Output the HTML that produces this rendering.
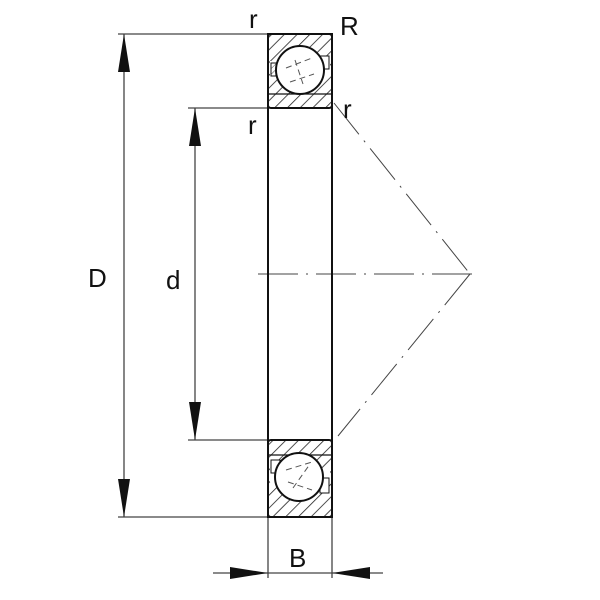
<!DOCTYPE html>
<html><head><style>
html,body{margin:0;padding:0;background:#fff;}
svg{display:block;}
text{font-family:"Liberation Sans",sans-serif;fill:#111;}
</style></head><body>
<svg width="600" height="600" viewBox="0 0 600 600" xmlns="http://www.w3.org/2000/svg">
<defs>
<pattern id="h" patternUnits="userSpaceOnUse" width="9" height="9" patternTransform="rotate(45)">
<line x1="0" y1="0" x2="0" y2="9" stroke="#222" stroke-width="1.6"/>
</pattern>
<pattern id="h2" patternUnits="userSpaceOnUse" width="4" height="4" patternTransform="rotate(45)">
<line x1="0" y1="0" x2="0" y2="4" stroke="#222" stroke-width="0.8"/>
</pattern>
</defs>
<g stroke="#444" stroke-width="1.3" fill="none">
<line x1="118" y1="34" x2="268" y2="34"/>
<line x1="118" y1="517" x2="268" y2="517"/>
<line x1="188" y1="108" x2="268" y2="108"/>
<line x1="188" y1="440" x2="268" y2="440"/>
<line x1="124" y1="34" x2="124" y2="517"/>
<line x1="195" y1="108" x2="195" y2="440"/>
<line x1="268" y1="517" x2="268" y2="578"/>
<line x1="332" y1="517" x2="332" y2="578"/>
<line x1="213" y1="573" x2="383" y2="573"/>
</g>
<g fill="#111">
<polygon points="124,34 118,72 130,72"/>
<polygon points="124,517 118,479 130,479"/>
<polygon points="195,108 189,146 201,146"/>
<polygon points="195,440 189,402 201,402"/>
<polygon points="268,573 230,567 230,579"/>
<polygon points="332,573 370,567 370,579"/>
</g>
<g stroke="#444" stroke-width="1" fill="none" stroke-dasharray="40,8,2,8">
<line x1="258" y1="274" x2="478" y2="274"/>
<line x1="334" y1="103" x2="470" y2="274"/>
<line x1="470" y1="274" x2="338" y2="436"/>
</g>
<rect x="268" y="34" width="64" height="483" fill="none" stroke="#111" stroke-width="2"/>
<rect x="268" y="34" width="64" height="74" rx="3" fill="url(#h)" stroke="#111" stroke-width="2"/>
<rect x="270" y="61" width="60" height="14" fill="#fff"/>
<rect x="271" y="63" width="9" height="13" fill="url(#h2)" stroke="#111" stroke-width="1"/>
<rect x="320" y="56" width="9" height="13" fill="#fff" stroke="#111" stroke-width="1"/>
<line x1="268" y1="94" x2="332" y2="94" stroke="#111" stroke-width="1.2"/>
<circle cx="300" cy="70" r="24" fill="#fff" stroke="#111" stroke-width="2"/>
<g stroke="#555" stroke-width="1" stroke-dasharray="6,4">
<line x1="286" y1="68" x2="312" y2="58"/><line x1="290" y1="82" x2="314" y2="74"/><line x1="295" y1="60" x2="303" y2="84"/>
</g>
<rect x="268" y="440" width="64" height="77" rx="3" fill="url(#h)" stroke="#111" stroke-width="2"/>
<rect x="270" y="468" width="60" height="14" fill="#fff"/>
<rect x="271" y="460" width="9" height="13" fill="#fff" stroke="#111" stroke-width="1"/>
<rect x="320" y="478" width="9" height="15" fill="#fff" stroke="#111" stroke-width="1"/>
<line x1="268" y1="455" x2="332" y2="455" stroke="#111" stroke-width="1.2"/>
<circle cx="299" cy="477" r="24" fill="#fff" stroke="#111" stroke-width="2"/>
<g stroke="#555" stroke-width="1" stroke-dasharray="6,4">
<line x1="286" y1="470" x2="312" y2="462"/><line x1="288" y1="482" x2="312" y2="490"/><line x1="293" y1="488" x2="310" y2="464"/>
</g>
<text x="88" y="287" font-size="26">D</text>
<text x="166" y="289" font-size="26">d</text>
<text x="289" y="567" font-size="26">B</text>
<text x="249" y="28" font-size="26">r</text>
<text x="248" y="134" font-size="26">r</text>
<text x="343" y="118" font-size="26">r</text>
<text x="340" y="35" font-size="26">R</text>
</svg>
</body></html>
